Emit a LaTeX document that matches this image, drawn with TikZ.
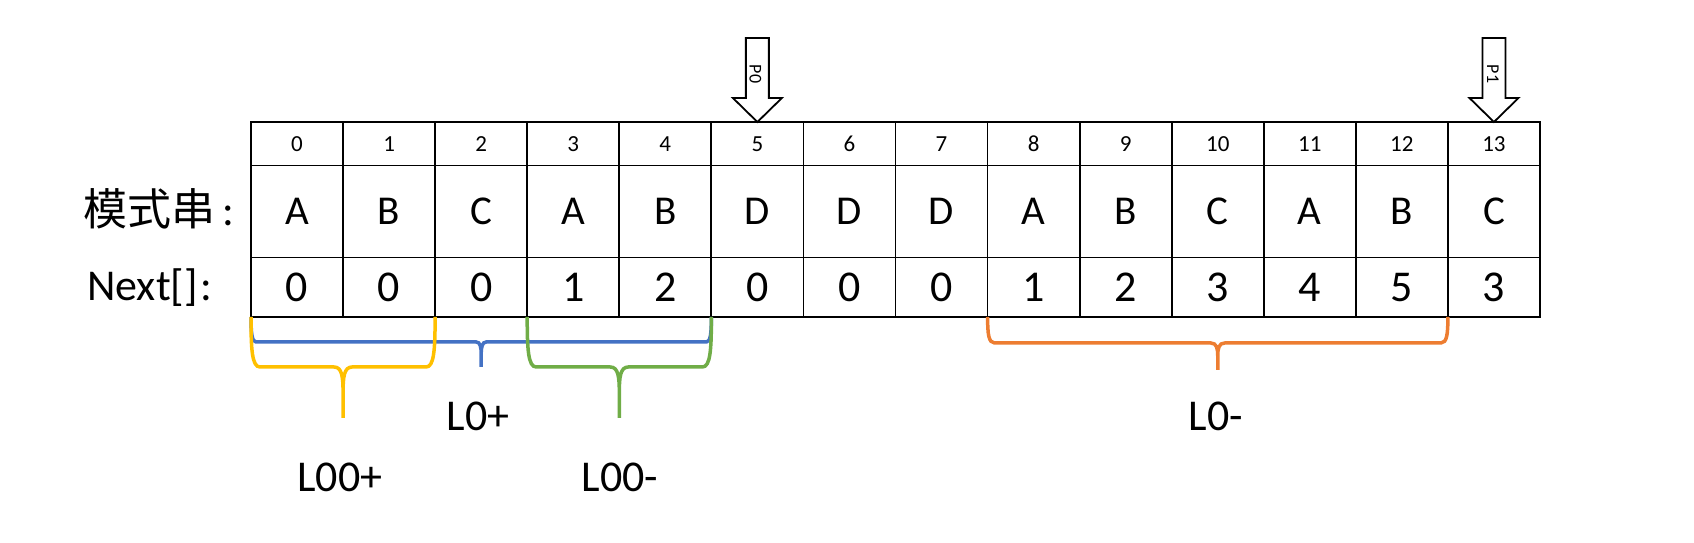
\documentclass[tikz,border=0pt]{standalone}
\usepackage{fontspec}
\setmainfont{Carlito}
\newfontfamily\cjk{Noto Sans CJK SC}
\definecolor{bYellow}{HTML}{FFC000}
\definecolor{bBlue}{HTML}{4472C4}
\definecolor{bGreen}{HTML}{70AD47}
\definecolor{bOrange}{HTML}{ED7D31}
% #1 colour, #2 xL, #3 xR, #4 yTop, #5 yHoriz, #6 yTip, #7 corner
\newcommand{\cbrace}[7]{%
  \draw[bracestyle,#1]
    (#2,#4) .. controls (#2,{#5+0.35*(#4-#5)}) and ({#2+1},#5) .. ({#2+#7},#5)
    -- ({(#2+#3)/2-#7},#5) .. controls ({(#2+#3)/2-1},#5) and ({(#2+#3)/2},{#5-0.2*(#5-#6)}) .. ({(#2+#3)/2},{#5-0.5*(#5-#6)})
    -- ({(#2+#3)/2},#6)
    (#3,#4) .. controls (#3,{#5+0.35*(#4-#5)}) and ({#3-1},#5) .. ({#3-#7},#5)
    -- ({(#2+#3)/2+#7},#5) .. controls ({(#2+#3)/2+1},#5) and ({(#2+#3)/2},{#5-0.2*(#5-#6)}) .. ({(#2+#3)/2},{#5-0.5*(#5-#6)});
}
\begin{document}
\begin{tikzpicture}[x=1pt,y=1pt,
  cellbase/.style={draw=black, line width=1.8pt, inner sep=0pt, outer sep=0pt, minimum width=92.07pt},
  idxcell/.style={cellbase, minimum height=43.5pt, font=\fontsize{23}{23}\selectfont},
  symcell/.style={cellbase, minimum height=92pt, font=\fontsize{41}{41}\selectfont},
  nxtcell/.style={cellbase, minimum height=59.5pt, font=\fontsize{44}{44}\selectfont},
  rowlabel/.style={anchor=base west, inner sep=0pt, font=\fontsize{44}{44}\selectfont},
  bracelabel/.style={inner sep=0pt, font=\fontsize{44}{44}\selectfont},
  bracestyle/.style={line width=3.5pt},
  ptrbox/.style={draw=black, line width=1.8pt, fill=white, line join=miter},
  ptrtext/.style={inner sep=0pt, rotate=-90, font=\fontsize{18}{18}\selectfont}
]
\useasboundingbox (0,0) rectangle (1694,543);

% table
\foreach \c [count=\i from 0] in {A,B,C,A,B,D,D,D,A,B,C,A,B,C} {
  \node[idxcell] (i\i) at ({251+(\i+0.5)*92.07},399.25) {\i};
  \node[symcell] (s\i) at ({251+(\i+0.5)*92.07},331.5) {\c};
}
\foreach \v [count=\i from 0] in {0,0,0,1,2,0,0,0,1,2,3,4,5,3} {
  \node[nxtcell] (n\i) at ({251+(\i+0.5)*92.07},255.75) {\v};
}

% row labels
\node[rowlabel] (lblpat) at (83,317) {{\cjk 模式串}\kern7pt:};
\node[rowlabel] (lblnext) at (87,242) {Next[]\kern3pt:};

% pointers
\draw[ptrbox] (i5.north) -- ++(24.5,24) -- ++(-13,0) -- ++(0,60) -- ++(-23,0) -- ++(0,-60) -- ++(-13,0) -- cycle;
\node[ptrtext] (p0) at ([xshift=-2pt,yshift=48pt]i5.north) {P0};
\draw[ptrbox] (i13.north) -- ++(24.5,24) -- ++(-13,0) -- ++(0,60) -- ++(-23,0) -- ++(0,-60) -- ++(-13,0) -- cycle;
\node[ptrtext] (p1) at ([xshift=-1pt,yshift=48pt]i13.north) {P1};

% braces
\cbrace{bBlue}{251}{711.4}{226}{201}{176}{5}
\cbrace{bYellow}{251}{435.1}{226}{176}{125}{9}
\cbrace{bGreen}{527.2}{711.4}{226}{176}{125}{9}
\cbrace{bOrange}{987.6}{1447.9}{226}{200}{173}{7}

% brace labels
\node[bracelabel] (l0p) at (478,127) {L0+};
\node[bracelabel] (l00p) at (340,66) {L00+};
\node[bracelabel] (l00m) at (620,66) {L00-};
\node[bracelabel] (l0m) at (1216,127) {L0-};
\end{tikzpicture}
\end{document}
